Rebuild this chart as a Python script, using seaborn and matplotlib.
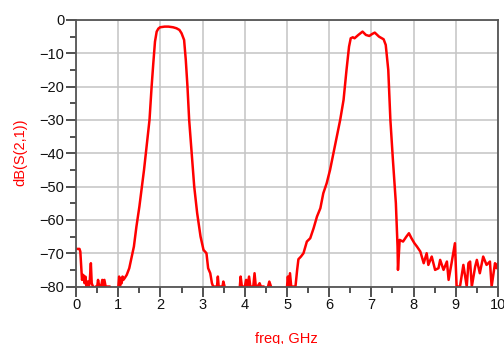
"""
S21 response of a dual-band filter, redrawn with seaborn
"""

import matplotlib
matplotlib.use("Agg")
import matplotlib.pyplot as plt
from matplotlib.ticker import MultipleLocator
import seaborn as sns
import pandas as pd
import numpy as np

# noise floor below 1.3 GHz
freq_low = [0.0, 0.08, 0.1, 0.12, 0.14, 0.17, 0.2, 0.22, 0.25, 0.28, 0.3, 0.32, 0.35,
            0.37, 0.4, 0.43, 0.46, 0.5, 0.52, 0.55, 0.58, 0.62, 0.64, 0.67, 0.7, 0.75,
            0.8, 0.83, 0.97, 1.0, 1.02, 1.04, 1.06, 1.08, 1.1, 1.12, 1.15, 1.2]
db_low = [-68.7, -68.7, -69.5, -74, -78, -76.5, -79, -77, -80, -78.5, -80, -79, -73,
          -79, -80, -81, -80, -80, -78, -80, -81, -78, -80, -78, -80, -80,
          -80, -85, -85, -80, -77, -80, -77.5, -79, -77, -78, -77.5, -76.5]

# first passband (around 2.2 GHz)
freq_band1 = [1.26, 1.32, 1.37, 1.43, 1.5, 1.55, 1.61, 1.67, 1.74, 1.79, 1.83, 1.87,
              1.91, 1.95, 1.99, 2.1, 2.19, 2.3, 2.38, 2.45, 2.5, 2.56, 2.6, 2.64, 2.68,
              2.74, 2.8, 2.87, 2.95, 3.02, 3.09, 3.13]
db_band1 = [-74.5, -71, -68, -62, -56, -51, -45, -38, -30, -20, -13, -6.5,
            -3.5, -2.6, -2.2, -2.0, -2.0, -2.2, -2.5, -3.0, -4, -6, -12, -20, -30,
            -40, -50, -58, -65, -69, -70, -74.5]

# stopband between the two bands
freq_mid = [3.18, 3.22, 3.25, 3.3, 3.34, 3.36, 3.38, 3.42, 3.47, 3.49, 3.52, 3.55,
            3.85, 3.88, 3.9, 3.93, 4.0, 4.03, 4.06, 4.1, 4.13, 4.2, 4.23, 4.26, 4.3,
            4.35, 4.38, 4.45, 4.5, 4.55, 4.58, 4.62, 4.65, 4.95, 5.0, 5.02, 5.04,
            5.07, 5.1, 5.15, 5.2]
db_mid = [-76, -79, -80, -80, -80, -77, -80, -80, -80, -78.5, -80, -85,
          -85, -80, -77, -80, -80, -78, -80, -77, -80, -80, -76, -80, -80,
          -79, -80, -80, -85, -80, -78.5, -80, -85, -85, -80, -77, -80,
          -76, -80, -80, -80]

# second passband (around 6.9 GHz)
freq_band2 = [5.24, 5.27, 5.33, 5.39, 5.47, 5.55, 5.63, 5.71, 5.79, 5.86, 5.94, 6.02,
              6.1, 6.18, 6.26, 6.34, 6.41, 6.47, 6.51, 6.56, 6.6, 6.69, 6.79, 6.87,
              6.95, 7.02, 7.08, 7.18, 7.29, 7.34, 7.4, 7.45, 7.51, 7.58, 7.62, 7.63,
              7.67, 7.75, 7.83, 7.89, 7.95, 8.02]
db_band2 = [-75, -71.8, -71, -70, -66.5, -65.5, -62.5, -59, -56.5, -52, -49, -45,
            -40, -35, -30, -24, -15, -8, -5.5, -5.2, -5.5, -4.5, -3.5, -4.5,
            -4.8, -4.2, -3.8, -5, -5.8, -7.5, -15, -30, -42, -55, -68, -75,
            -66, -66.5, -65, -64, -65.5, -67]

# upper stopband
freq_high = [8.08, 8.16, 8.24, 8.31, 8.35, 8.43, 8.51, 8.59, 8.63, 8.71, 8.79, 8.83,
             8.9, 8.98, 9.02, 9.1, 9.18, 9.26, 9.3, 9.34, 9.38, 9.46, 9.5, 9.57,
             9.65, 9.73, 9.81, 9.85, 9.93, 9.97, 10.0]
db_high = [-68, -69.5, -73, -70, -73.5, -71, -75, -74.5, -72, -75, -72.5, -78,
           -73, -67, -80, -80, -73.5, -80, -73, -72.5, -80, -74, -72, -76,
           -71, -73.5, -72.5, -80, -73, -74.5, -73]

x_ticks = [0, 1, 2, 3, 4, 5, 6, 7, 8, 9, 10]
y_ticks = [0, -10, -20, -30, -40, -50, -60, -70, -80]

df = pd.DataFrame({
    'freq': freq_low + freq_band1 + freq_mid + freq_band2 + freq_high,
    'db': db_low + db_band1 + db_mid + db_band2 + db_high,
})

sns.set_style("whitegrid")
plt.rcParams['font.family'] = ['Liberation Sans', 'DejaVu Sans']
plt.rcParams['font.size'] = 10

fig = plt.figure(figsize=(5.04, 3.44), dpi=100)
ax = fig.add_axes([0.151, 0.167, 0.837, 0.775])

sns.lineplot(data=df, x='freq', y='db', color='#ff0000', linewidth=1.8,
             estimator=None, sort=False, ax=ax)

ax.set_xlim(0, 10)
ax.set_ylim(-80, 0)
ax.set_xticks(x_ticks)
ax.set_yticks(y_ticks)
ax.xaxis.set_minor_locator(MultipleLocator(0.5))
ax.yaxis.set_minor_locator(MultipleLocator(5))

ax.grid(which='major', color='#c4c4c4', linewidth=1.1)
ax.grid(which='minor', visible=False)
for side in ['left', 'right', 'top', 'bottom']:
    ax.spines[side].set_color('#555555')
    ax.spines[side].set_linewidth(1.3)

ax.tick_params(axis='both', which='major', direction='out', length=7.5, width=1.2,
               color='#333333', labelsize=10.5, labelcolor='#111111', pad=1,
               bottom=True, left=True)
ax.tick_params(axis='both', which='minor', direction='out', length=4.5, width=1.2,
               color='#333333', bottom=True, left=True)

ax.set_xlabel('')
ax.set_ylabel('')
fig.text(0.04, 0.558, 'dB(S(2,1))', color='#ff0000', fontsize=10.5,
         rotation=90, ha='center', va='center')
fig.text(0.568, -0.005, 'freq, GHz', color='#ff0000', fontsize=10.5,
         ha='center', va='bottom')

fig.savefig('out.png', dpi=100)
